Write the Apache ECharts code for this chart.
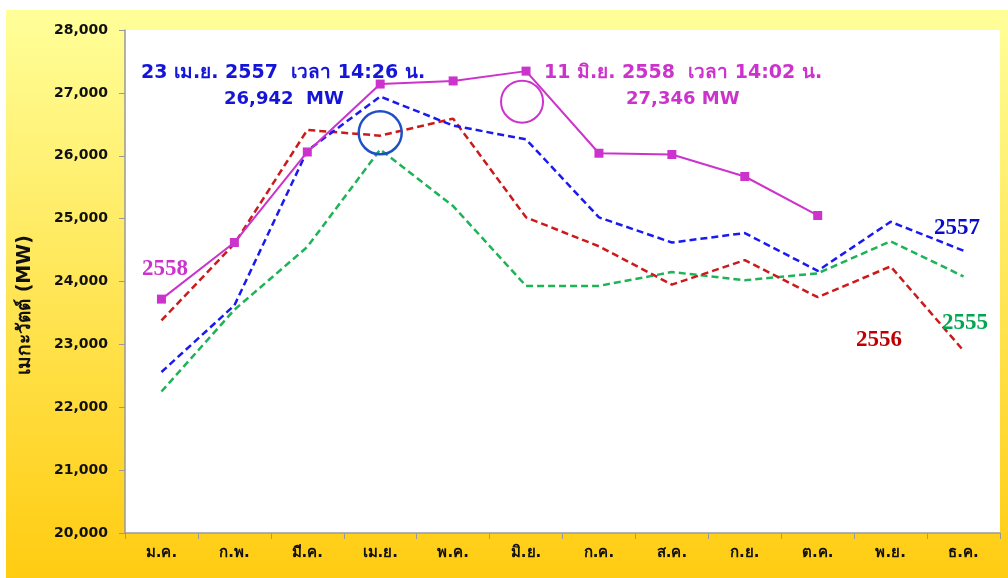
<!DOCTYPE html>
<html>
<head>
<meta charset="utf-8">
<script src="https://cdn.jsdelivr.net/npm/echarts@6/dist/echarts.min.js"></script>
<style>
  html, body { margin: 0; padding: 0; background: #fff; }
  #chart_container { width: 1008px; height: 578px; }
</style>
</head>
<body>
<div id="chart_container"></div>
<script>
// months (Thai abbreviations)
const months = ['ม.ค.', 'ก.พ.', 'มี.ค.', 'เม.ย.', 'พ.ค.', 'มิ.ย.', 'ก.ค.', 'ส.ค.', 'ก.ย.', 'ต.ค.', 'พ.ย.', 'ธ.ค.'];

// peak demand per month, MW
const y2555 = [22250, 23550, 24550, 26100, 25200, 23930, 23930, 24150, 24020, 24130, 24640, 24080];
const y2556 = [23380, 24600, 26410, 26320, 26590, 25020, 24560, 23950, 24340, 23750, 24240, 22900];
const y2557 = [22560, 23620, 26080, 26942, 26480, 26260, 25020, 24620, 24770, 24170, 24950, 24490];
const y2558 = [23720, 24620, 26060, 27140, 27190, 27346, 26040, 26020, 25670, 25050, null, null];

const yTicks = [20000, 21000, 22000, 23000, 24000, 25000, 26000, 27000, 28000];

const thaiFont = 'Tahoma, "DejaVu Sans", sans-serif';
const serifFont = '"Liberation Serif", "DejaVu Serif", serif';

document.addEventListener("DOMContentLoaded", function () {
    let chart_container = document.getElementById('chart_container');
    var chart = echarts.init(chart_container, null, { renderer: 'canvas' });

    function dashed(name, data, color) {
        return {
            name: name,
            type: 'line',
            data: data,
            symbol: 'none',
            z: 3,
            lineStyle: { color: color, width: 2.5, type: [7, 4] }
        };
    }

    var option = {
        animation: false,
        backgroundColor: '#ffffff',
        graphic: [
            // yellow gradient frame
            {
                type: 'rect', z: -10, silent: true,
                shape: { x: 6, y: 10, width: 1002, height: 568 },
                style: {
                    fill: new echarts.graphic.LinearGradient(0, 0, 0, 1, [
                        { offset: 0, color: '#FFFF99' },
                        { offset: 1, color: '#FFCC11' }
                    ])
                }
            },
            // y axis title
            {
                type: 'text', x: 25, y: 305, rotation: Math.PI / 2, z: 20,
                style: {
                    text: 'เมกะวัตต์ (MW)', fill: '#111', font: 'bold 19px ' + thaiFont,
                    textAlign: 'center', textVerticalAlign: 'middle'
                }
            },
            // annotation texts
            {
                type: 'text', left: 141, top: 64, z: 20,
                style: { text: '23 เม.ย. 2557  เวลา 14:26 น.', fill: '#1515D8', font: 'bold 19px ' + thaiFont }
            },
            {
                type: 'text', left: 224, top: 90, z: 20,
                style: { text: '26,942  MW', fill: '#1515D8', font: 'bold 18px ' + thaiFont }
            },
            {
                type: 'text', left: 544, top: 64, z: 20,
                style: { text: '11 มิ.ย. 2558  เวลา 14:02 น.', fill: '#CC33CC', font: 'bold 19px ' + thaiFont }
            },
            {
                type: 'text', left: 626, top: 90, z: 20,
                style: { text: '27,346 MW', fill: '#CC33CC', font: 'bold 18px ' + thaiFont }
            },
            // year labels
            {
                type: 'text', left: 142, top: 258, z: 20,
                style: { text: '2558', fill: '#CC33CC', font: 'bold 23px ' + serifFont }
            },
            {
                type: 'text', left: 934, top: 217, z: 20,
                style: { text: '2557', fill: '#0A0ACC', font: 'bold 23px ' + serifFont }
            },
            {
                type: 'text', left: 942, top: 312, z: 20,
                style: { text: '2555', fill: '#00A650', font: 'bold 23px ' + serifFont }
            },
            {
                type: 'text', left: 856, top: 329, z: 20,
                style: { text: '2556', fill: '#C00000', font: 'bold 23px ' + serifFont }
            }
        ],
        grid: {
            left: 125, right: 8, top: 30, bottom: 45,
            show: true, backgroundColor: '#ffffff', borderWidth: 0
        },
        xAxis: {
            type: 'category',
            data: months,
            boundaryGap: true,
            axisLine: { lineStyle: { color: '#999999', width: 1.5 } },
            axisTick: { show: true, length: 6, lineStyle: { color: '#999999' } },
            axisLabel: { color: '#111', fontFamily: thaiFont, fontWeight: 'bold', fontSize: 15, margin: 13 }
        },
        yAxis: {
            type: 'value',
            min: yTicks[0],
            max: yTicks[yTicks.length - 1],
            interval: 1000,
            splitLine: { show: false },
            axisLine: { show: true, lineStyle: { color: '#999999', width: 1.5 } },
            axisTick: { show: true, length: 6, lineStyle: { color: '#999999' } },
            axisLabel: {
                color: '#111', fontFamily: '"DejaVu Sans", Tahoma, sans-serif', fontWeight: 'bold', fontSize: 14, margin: 17,
                formatter: function (v) { return v.toLocaleString('en-US'); }
            }
        },
        series: [
            dashed('2555', y2555, '#1DB356'),
            dashed('2556', y2556, '#CC1A1A'),
            dashed('2557', y2557, '#1A1AF0'),
            {
                name: '2558',
                type: 'line',
                data: y2558,
                z: 5,
                symbol: 'rect',
                symbolSize: 9,
                itemStyle: { color: '#CC33CC' },
                lineStyle: { color: '#CC33CC', width: 2 },
                markPoint: {
                    silent: true,
                    label: { show: false },
                    data: [
                        {
                            coord: ['เม.ย.', 26365], symbol: 'circle', symbolSize: 43,
                            itemStyle: { color: 'rgba(0,0,0,0)', borderColor: '#1F4FC8', borderWidth: 2.5 }
                        },
                        {
                            coord: ['มิ.ย.', 26860], symbol: 'circle', symbolSize: 42, symbolOffset: [-4, 0],
                            itemStyle: { color: 'rgba(0,0,0,0)', borderColor: '#CC33CC', borderWidth: 2 }
                        }
                    ]
                }
            }
        ]
    };

    if (chart) {
        chart.setOption(option);
    } else {
        console.error("Echart instance failed to init");
    }
});
</script>
</body>
</html>
